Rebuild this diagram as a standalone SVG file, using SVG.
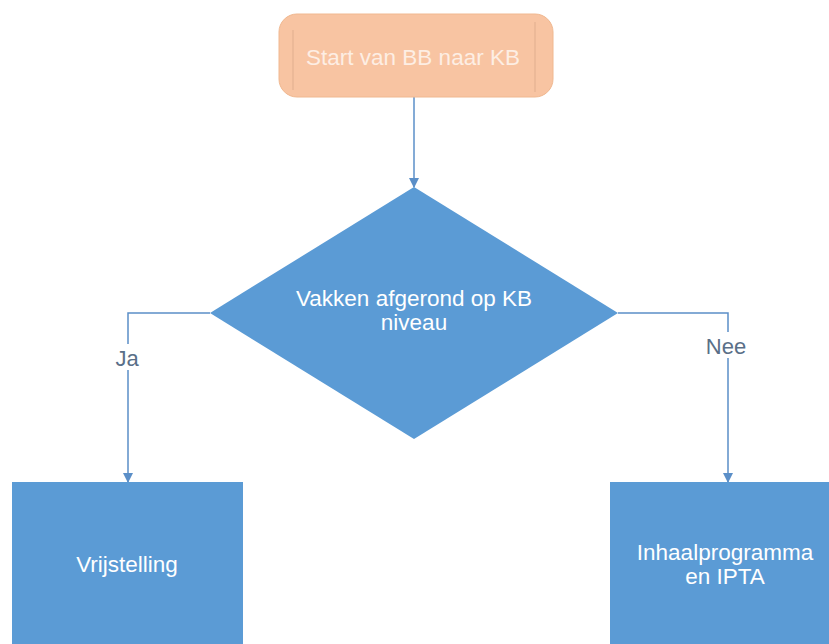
<svg xmlns="http://www.w3.org/2000/svg" width="829" height="644" viewBox="0 0 829 644">
<defs>
<style>
.t{font-family:"Liberation Sans",Arial,sans-serif;font-size:22.5px;text-anchor:middle;fill:#ffffff}
.lbl{font-family:"Liberation Sans",Arial,sans-serif;font-size:22px;text-anchor:middle;fill:#5a6f88}
.c{fill:none;stroke:#5b8fc8;stroke-width:1.5}
.box{fill:#5b9bd5}
</style>
<marker id="ah" viewBox="0 0 10 10" refX="9" refY="5" markerWidth="10" markerHeight="10" markerUnits="userSpaceOnUse" orient="auto">
<path d="M0,0 L10,5 L0,10 z" fill="#5b8fc8"/>
</marker>
</defs>
<rect width="829" height="644" fill="#ffffff"/>
<g id="connectors">
<path class="c" d="M414,97 V187" marker-end="url(#ah)"/>
<path class="c" d="M210,313 H128 V482" marker-end="url(#ah)"/>
<path class="c" d="M618,313 H728 V482" marker-end="url(#ah)"/>
<rect x="110" y="344" width="36" height="26" fill="#ffffff"/>
<rect x="702" y="332" width="50" height="26" fill="#ffffff"/>
<text class="lbl" x="127" y="366">Ja</text>
<text class="lbl" x="726" y="354">Nee</text>
</g>
<g id="start">
<rect x="279" y="14" width="274" height="83" rx="18" ry="18" fill="#f8c4a2" stroke="#f0b890" stroke-width="1"/>
<line x1="293" y1="30" x2="293" y2="90" stroke="#e0ae8e" stroke-width="1"/>
<line x1="535" y1="22" x2="535" y2="92" stroke="#e0ae8e" stroke-width="1"/>
<text class="t" x="413" y="65" style="fill:#fdeee4">Start van BB naar KB</text>
</g>
<g id="decision">
<polygon class="box" points="414,187 618,313 414,439 210,313"/>
<text class="t" x="414" y="306">Vakken afgerond op KB</text>
<text class="t" x="414" y="330">niveau</text>
</g>
<g id="vrijstelling">
<rect class="box" x="12" y="482" width="231" height="170"/>
<text class="t" x="127" y="572">Vrijstelling</text>
</g>
<g id="inhaal">
<rect class="box" x="610" y="482" width="231" height="170"/>
<text class="t" x="725" y="560">Inhaalprogramma</text>
<text class="t" x="725" y="584">en IPTA</text>
</g>
</svg>
